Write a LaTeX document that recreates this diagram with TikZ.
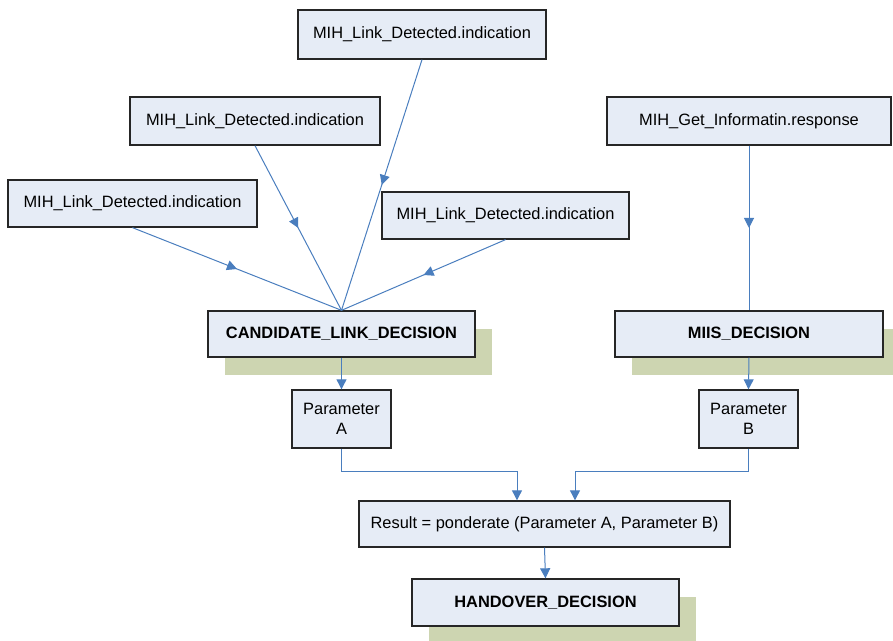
\documentclass[tikz,border=0pt]{standalone}
\usepackage{fontspec}
\setmainfont{Liberation Sans}
\usetikzlibrary{arrows.meta,shadows,decorations.markings,calc}

\definecolor{boxfill}{RGB}{230,236,246}
\definecolor{boxline}{RGB}{38,38,38}
\definecolor{linkblue}{RGB}{74,126,190}
\definecolor{shadowgreen}{RGB}{205,213,177}

\begin{document}
\begin{tikzpicture}[x=0.75pt,y=0.75pt,yscale=-1,xscale=1,
  box/.style={draw=boxline,fill=boxfill,line width=1pt,inner sep=0pt,align=center,
    font=\fontsize{12.3}{15.5}\selectfont},
  decision/.style={box,font=\fontsize{12.3}{15.5}\selectfont\bfseries,
    general shadow={fill=shadowgreen,shadow xshift=12.75pt,shadow yshift=-13.5pt}},
  link/.style={draw=linkblue,line width=0.75pt},
  arr/.style={link,-{Triangle[length=7.5pt,width=7.5pt]}},
  midarrow/.style={link,decoration={markings,
    mark=at position 0.5 with {\arrow[linkblue]{Triangle[length=7.5pt,width=7.5pt]}}},
    postaction={decorate}}]
\useasboundingbox (0,0) rectangle (893,641);

%Shape: Indication boxes
\node[box,minimum width=248*0.75pt,minimum height=49*0.75pt] (det1) at (422,34.5) {MIH\_Link\_Detected.indication};
\node[box,minimum width=250*0.75pt,minimum height=48*0.75pt] (det2) at (255,121) {MIH\_Link\_Detected.indication};
\node[box,minimum width=249*0.75pt,minimum height=47*0.75pt] (det3) at (132.5,203.5) {MIH\_Link\_Detected.indication};
\node[box,minimum width=247*0.75pt,minimum height=47*0.75pt] (det4) at (505.5,215.5) {MIH\_Link\_Detected.indication};
\node[box,minimum width=284*0.75pt,minimum height=48*0.75pt] (info) at (749,121) {MIH\_Get\_Informatin.response};

%Shape: Decision boxes
\node[decision,minimum width=267*0.75pt,minimum height=46*0.75pt] (cand) at (341.5,334) {CANDIDATE\_LINK\_DECISION};
\node[decision,minimum width=268*0.75pt,minimum height=46*0.75pt] (miis) at (749,334) {MIIS\_DECISION};

%Shape: Parameters
\node[box,minimum width=99*0.75pt,minimum height=58*0.75pt] (parA) at (341.5,419) {Parameter\\A};
\node[box,minimum width=99*0.75pt,minimum height=58*0.75pt] (parB) at (748.5,419) {Parameter\\B};

\node[box,minimum width=371*0.75pt,minimum height=46*0.75pt] (res) at (544.5,524) {Result = ponderate (Parameter A, Parameter B)};
\node[decision,minimum width=267*0.75pt,minimum height=47*0.75pt] (hand) at (545.5,602.5) {HANDOVER\_DECISION};

%Straight Lines
\draw[midarrow] (det1.south) -- (cand.north);
\draw[midarrow] (det2.south) -- (cand.north);
\draw[midarrow] (det3.south) -- (cand.north);
\draw[midarrow] (det4.south) -- (cand.north);
\draw[midarrow] (info.south) -- (miis.north);

\draw[arr] (cand.south) -- (parA.north);
\draw[arr] (miis.south) -- (parB.north);

\coordinate (inA) at ($(res.north)+(-27.5,0)$);
\coordinate (inB) at ($(res.north)+(30.5,0)$);
\draw[arr] (parA.south) |- ($(inA)+(0,-29)$) -- (inA);
\draw[arr] (parB.south) |- ($(inB)+(0,-29)$) -- (inB);

\draw[arr] (res.south) -- (hand.north);

\end{tikzpicture}
\end{document}
